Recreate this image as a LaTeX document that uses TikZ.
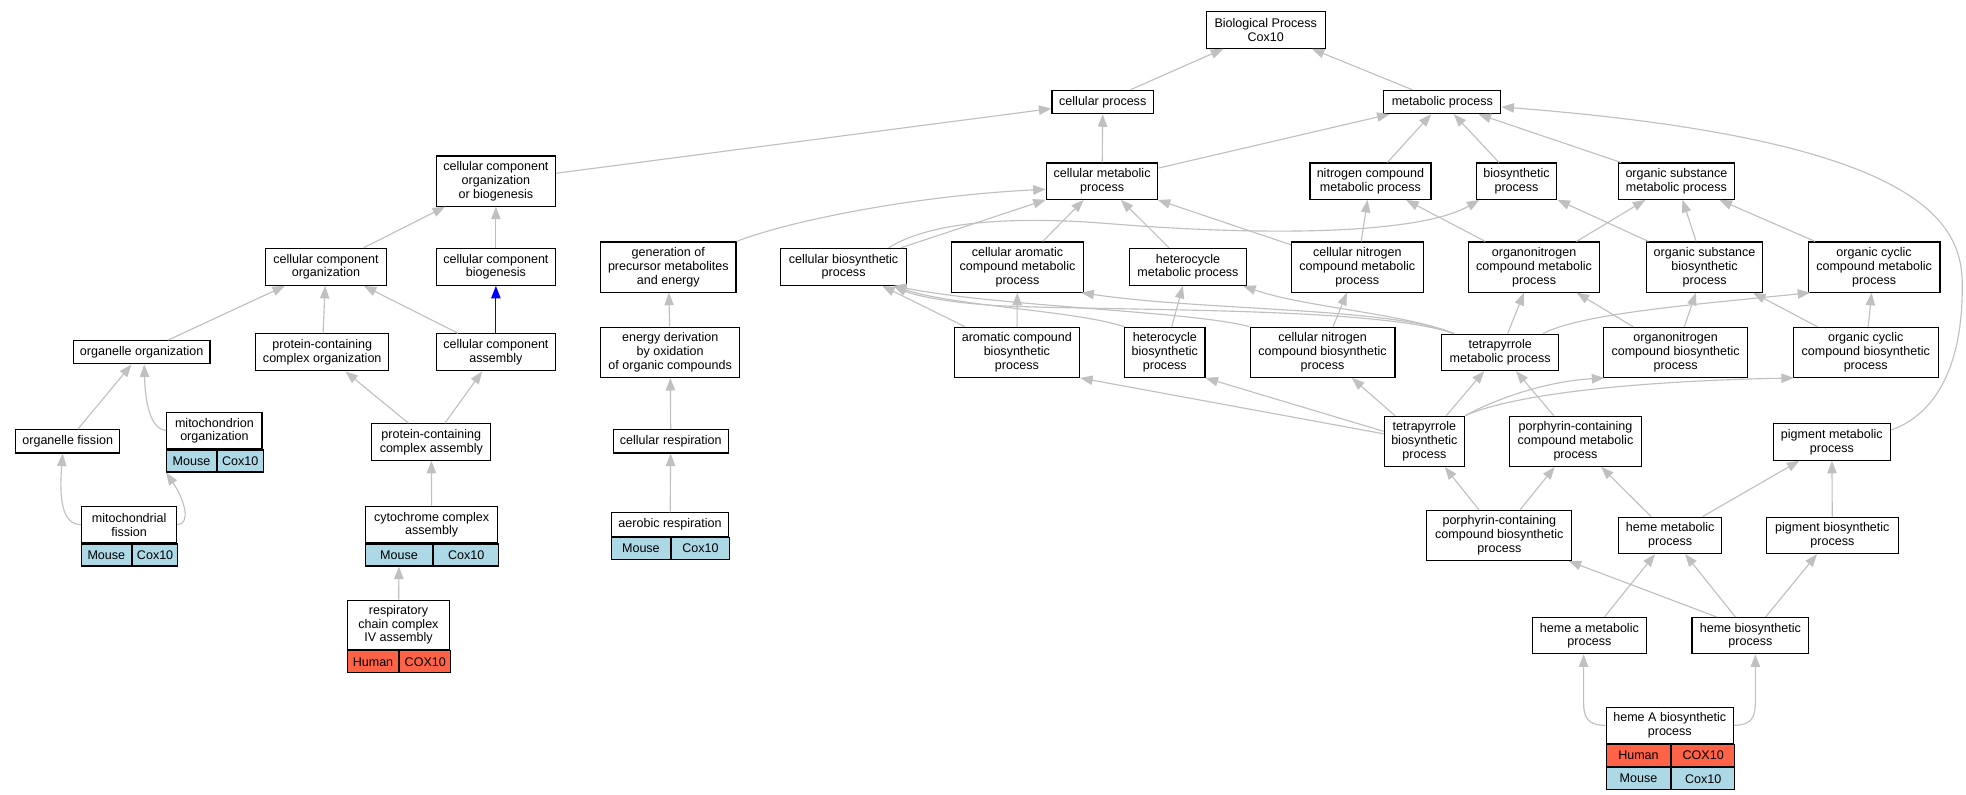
\documentclass[tikz,border=0pt]{standalone}
\usepackage{fontspec}
\setmainfont{Liberation Sans}
\usetikzlibrary{arrows.meta}
\definecolor{edgegray}{RGB}{192,192,192}
\definecolor{mouseblue}{RGB}{173,216,230}
\definecolor{humanred}{RGB}{255,99,71}
\begin{document}
\begin{tikzpicture}[x=1pt,y=-1pt,
  box/.style={draw=black, line width=0.9pt, fill=white, inner sep=0pt, align=center, font=\fontsize{10}{11}\selectfont},
  cell/.style={draw=black, line width=0.9pt, inner sep=0pt, minimum height=17.5pt, anchor=north west, font=\fontsize{10}{11}\selectfont},
  mousecell/.style={cell, fill=mouseblue},
  humancell/.style={cell, fill=humanred},
  edge/.style={draw=edgegray, line width=0.9pt, -{Triangle[length=10pt,width=7.5pt]}},
  blueedge/.style={edge, draw=blue},
]
\fill[white] (0,0) rectangle (1568,634);
\useasboundingbox (0,0) rectangle (1568,634);

% ---------- nodes ----------
\node[box, minimum width=95pt, minimum height=29pt] (bp) at (1009.5,24) {Biological Process\\Cox10};
\node[box, minimum width=81pt, minimum height=18.7pt] (cp) at (879.5,81.3) {cellular process};
\node[box, minimum width=93.5pt, minimum height=18.7pt] (mp) at (1150.3,81.3) {metabolic process};

\node[box, minimum width=95pt, minimum height=40pt] (ccob) at (395.5,144.4) {cellular component\\organization\\or biogenesis};
\node[box, minimum width=89pt, minimum height=29pt] (cmp) at (879,144.5) {cellular metabolic\\process};
\node[box, minimum width=96.5pt, minimum height=29pt] (ncmp) at (1093,144.5) {nitrogen compound\\metabolic process};
\node[box, minimum width=64.3pt, minimum height=29pt] (bsp) at (1209.5,144.5) {biosynthetic\\process};
\node[box, minimum width=93pt, minimum height=29pt] (osmp) at (1337,144.5) {organic substance\\metabolic process};

\node[box, minimum width=96pt, minimum height=29.5pt] (cco) at (260,212.8) {cellular component\\organization};
\node[box, minimum width=95pt, minimum height=29.5pt] (ccb) at (395.5,212.8) {cellular component\\biogenesis};
\node[box, minimum width=108pt, minimum height=40pt] (gen) at (533,213) {generation of\\precursor metabolites\\and energy};
\node[box, minimum width=100pt, minimum height=29.5pt] (cbp) at (672.8,212.8) {cellular biosynthetic\\process};
\node[box, minimum width=105pt, minimum height=40pt] (cacmp) at (811.5,213) {cellular aromatic\\compound metabolic\\process};
\node[box, minimum width=93pt, minimum height=29.5pt] (hmp) at (947.5,212.8) {heterocycle\\metabolic process};
\node[box, minimum width=105pt, minimum height=40pt] (cncmp) at (1082.5,213) {cellular nitrogen\\compound metabolic\\process};
\node[box, minimum width=104.5pt, minimum height=40pt] (ocmp) at (1223.5,213) {organonitrogen\\compound metabolic\\process};
\node[box, minimum width=93pt, minimum height=40pt] (osbp) at (1359.5,213) {organic substance\\biosynthetic\\process};
\node[box, minimum width=105pt, minimum height=40pt] (occmp) at (1494.7,213) {organic cyclic\\compound metabolic\\process};

\node[box, minimum width=109pt, minimum height=18.5pt] (oo) at (113,281) {organelle organization};
\node[box, minimum width=106pt, minimum height=29.5pt] (pcco) at (257,281) {protein-containing\\complex organization};
\node[box, minimum width=95pt, minimum height=29.5pt] (cca) at (395.5,281) {cellular component\\assembly};
\node[box, minimum width=111pt, minimum height=40pt] (ed) at (534.5,281) {energy derivation\\by oxidation\\of organic compounds};
\node[box, minimum width=100pt, minimum height=40pt] (acbp) at (811,281) {aromatic compound\\biosynthetic\\process};
\node[box, minimum width=64pt, minimum height=40pt] (hbp) at (929,281) {heterocycle\\biosynthetic\\process};
\node[box, minimum width=115.5pt, minimum height=40pt] (cncbp) at (1054.8,281) {cellular nitrogen\\compound biosynthetic\\process};
\node[box, minimum width=93pt, minimum height=29pt] (tmp) at (1196.5,281) {tetrapyrrole\\metabolic process};
\node[box, minimum width=114.7pt, minimum height=40pt] (ocbp) at (1336.4,281) {organonitrogen\\compound biosynthetic\\process};
\node[box, minimum width=115.6pt, minimum height=40pt] (occbp) at (1488,281) {organic cyclic\\compound biosynthetic\\process};

\node[box, minimum width=83pt, minimum height=18.5pt] (of) at (54,352) {organelle fission};
\node[box, minimum width=76pt, minimum height=29pt] (mo) at (171,343.5) {mitochondrion\\organization};
\node[mousecell, minimum width=39.4pt] (moa) at (mo.south west) {Mouse};
\node[mousecell, minimum width=36.6pt] (mob) at (moa.north east) {Cox10};
\node[box, minimum width=95pt, minimum height=29pt] (pcca) at (344,352.5) {protein-containing\\complex assembly};
\node[box, minimum width=92pt, minimum height=18.5pt] (cr) at (535,352) {cellular respiration};
\node[box, minimum width=64pt, minimum height=40pt] (tbp) at (1136,352) {tetrapyrrole\\biosynthetic\\process};
\node[box, minimum width=105pt, minimum height=40pt] (pccmp) at (1256.5,352) {porphyrin-containing\\compound metabolic\\process};
\node[box, minimum width=93.5pt, minimum height=29pt] (pmp) at (1461,352.5) {pigment metabolic\\process};

\node[box, minimum width=76pt, minimum height=29pt] (mf) at (103,418.5) {mitochondrial\\fission};
\node[mousecell, minimum width=39.6pt] (mfa) at (mf.south west) {Mouse};
\node[mousecell, minimum width=36.4pt] (mfb) at (mfa.north east) {Cox10};
\node[box, minimum width=105.4pt, minimum height=29pt] (cyt) at (344.3,418.5) {cytochrome complex\\assembly};
\node[mousecell, minimum width=53.2pt] (cyta) at (cyt.south west) {Mouse};
\node[mousecell, minimum width=52.2pt] (cytb) at (cyta.north east) {Cox10};
\node[box, minimum width=93.3pt, minimum height=18.5pt] (ar) at (534.4,418.3) {aerobic respiration};
\node[mousecell, minimum width=46.8pt] (ara) at (ar.south west) {Mouse};
\node[mousecell, minimum width=46.5pt] (arb) at (ara.north east) {Cox10};
\node[box, minimum width=115.6pt, minimum height=40pt] (pccbp) at (1195.8,427) {porphyrin-containing\\compound biosynthetic\\process};
\node[box, minimum width=82.6pt, minimum height=29pt] (hmeta) at (1332,427) {heme metabolic\\process};
\node[box, minimum width=104.8pt, minimum height=29pt] (pbp) at (1461.4,427) {pigment biosynthetic\\process};

\node[box, minimum width=81.6pt, minimum height=39.5pt] (rc) at (317.8,498.4) {respiratory\\chain complex\\IV assembly};
\node[humancell, minimum width=41pt] (rca) at (rc.south west) {Human};
\node[humancell, minimum width=40.6pt] (rcb) at (rca.north east) {COX10};
\node[box, minimum width=90.8pt, minimum height=29pt] (hamp) at (1267.6,507) {heme a metabolic\\process};
\node[box, minimum width=93pt, minimum height=29pt] (hbsp) at (1396,507) {heme biosynthetic\\process};

\node[box, minimum width=101.5pt, minimum height=29pt] (hA) at (1331.75,578.5) {heme A biosynthetic\\process};
\node[humancell, minimum width=51.5pt] (hAa) at (hA.south west) {Human};
\node[humancell, minimum width=50pt] (hAb) at (hAa.north east) {COX10};
\node[mousecell, minimum width=51.5pt] (hAc) at (hAa.south west) {Mouse};
\node[mousecell, minimum width=50pt] (hAd) at (hAc.north east) {Cox10};

% ---------- edges ----------
\draw[edge] (cp) -- (bp);
\draw[edge] (mp) -- (bp);
\draw[edge] (ccob) -- (cp);
\draw[edge] (cmp) -- (cp);
\draw[edge] (cmp) -- (mp);
\draw[edge] (ncmp) -- (mp);
\draw[edge] (bsp) -- (mp);
\draw[edge] (osmp) -- (mp);
\draw[edge] ([yshift=9.5pt]pmp.east) .. controls (1545,330) and (1565,290) .. (1565,230) .. controls (1566,180) and (1540,112) .. ([yshift=-4pt]mp.east);

\draw[edge] (cco) -- (ccob);
\draw[edge] (ccb) -- (ccob);
\draw[edge] (gen.north east) .. controls (630,176) and (730,156) .. ([yshift=-6.5pt]cmp.west);
\draw[edge] (cbp) -- (cmp);
\draw[edge] ([xshift=36pt]cbp.north) .. controls (740,178) and (800,172) .. (880,178) .. controls (1000,188) and (1130,188) .. ([xshift=3pt]bsp.south west);
\draw[edge] (cacmp) -- (cmp);
\draw[edge] (hmp) -- (cmp);
\draw[edge] (cncmp) -- (cmp);
\draw[edge] (cncmp) -- (ncmp);
\draw[edge] (ocmp) -- (ncmp);
\draw[edge] (ocmp) -- (osmp);
\draw[edge] (osbp) -- (bsp);
\draw[edge] (osbp) -- (osmp);
\draw[edge] (occmp) -- (osmp);

\draw[edge] (oo) -- (cco);
\draw[edge] (pcco) -- (cco);
\draw[edge] (cca) -- (cco);
\draw[blueedge] (cca) -- (ccb);
\draw[edge] (ed) -- (gen);
\draw[edge] (acbp) -- (cacmp);
\draw[edge] (acbp) -- (cbp);
\draw[edge] (hbp) -- (hmp);
\draw[edge] (hbp.north west) .. controls (860,248) and (760,244) .. ([xshift=40pt]cbp.south);
\draw[edge] (cncbp) -- (cncmp);
\draw[edge] (cncbp.north west) .. controls (950,248) and (800,245) .. ([xshift=40pt]cbp.south);
\draw[edge] ([xshift=10pt]tmp.north west) .. controls (1110,245) and (960,248) .. ([xshift=-2pt]cacmp.south east);
\draw[edge] ([xshift=10pt]tmp.north west) .. controls (1120,250) and (1040,245) .. ([xshift=-3pt]hmp.south east);
\draw[edge] ([xshift=10pt]tmp.north west) .. controls (1100,245) and (900,248) .. (800,244) .. controls (760,242) and (730,236) .. ([xshift=40pt]cbp.south);
\draw[edge] (tmp) -- (ocmp);
\draw[edge] ([xshift=-13pt]tmp.north east) .. controls (1262,250) and (1350,243) .. ([xshift=2pt]occmp.south west);
\draw[edge] (ocbp) -- (ocmp);
\draw[edge] (ocbp) -- (osbp);
\draw[edge] (occbp) -- (osbp);
\draw[edge] (occbp) -- (occmp);

\draw[edge] (mo.west) .. controls (121,342) and (116,325) .. ([xshift=2pt]oo.south);
\draw[edge] (of) -- (oo);
\draw[edge] (pcca) -- (pcco);
\draw[edge] (pcca) -- (cca);
\draw[edge] (cr) -- (ed);
\draw[edge] ([yshift=6pt]tbp.west) -- (acbp.south east);
\draw[edge] ([yshift=8pt]tbp.west) -- (hbp.south east);
\draw[edge] (tbp) -- (cncbp);
\draw[edge] (tbp) -- (tmp);
\draw[edge] (tbp.north east) .. controls (1195,317) and (1235,304) .. ([xshift=1pt]ocbp.south west);
\draw[edge] (tbp.north east) .. controls (1205,315) and (1300,304) .. ([xshift=1pt]occbp.south west);
\draw[edge] (pccmp) -- (tmp);

\draw[edge] (mf.west) .. controls (50,418) and (47,400) .. ([xshift=-4pt]of.south);
\draw[edge] (mf.east) .. controls (152,418) and (148,400) .. (moa.south west);
\draw[edge] (cyt) -- (pcca);
\draw[edge] (ar) -- (cr);
\draw[edge] (pccbp) -- (tbp);
\draw[edge] (pccbp) -- (pccmp);
\draw[edge] (hmeta) -- (pccmp);
\draw[edge] (hmeta) -- (pmp);
\draw[edge] (pbp) -- (pmp);

\draw[edge] (rc) -- (cyta.south);
\draw[edge] (hamp) -- (hmeta);
\draw[edge] ([xshift=20pt]hbsp.north west) -- ([xshift=-3pt]pccbp.south east);
\draw[edge] (hbsp) -- (hmeta);
\draw[edge] (hbsp) -- (pbp);

\draw[edge] (hA.west) .. controls (1266,578.5) and (1263,572) .. (1263,560) -- ([xshift=-4.6pt]hamp.south);
\draw[edge] (hA.east) .. controls (1397,578.5) and (1400,572) .. (1400,560) -- ([xshift=4pt]hbsp.south);
\end{tikzpicture}
\end{document}
